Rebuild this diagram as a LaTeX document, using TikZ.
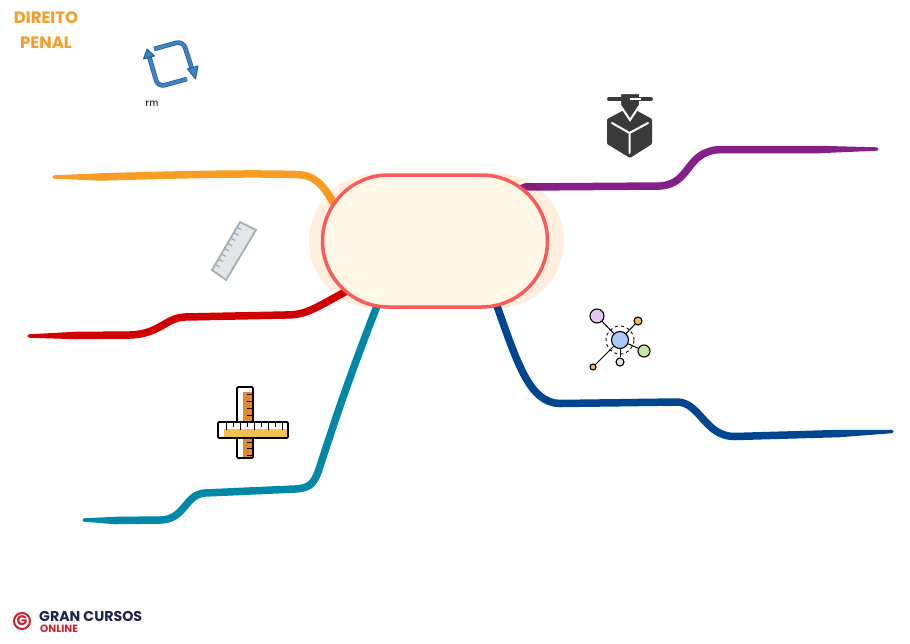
\documentclass[tikz,border=0pt]{standalone}
\usepackage{fontspec}
\usetikzlibrary{positioning,shapes.misc}
\newfontfamily\logofont{Poppins}
\definecolor{haloc}{HTML}{FFEFDC}
\definecolor{corec}{HTML}{FFF8E7}
\definecolor{rimc}{HTML}{FB5A5A}
\definecolor{orangec}{HTML}{F89C24}
\definecolor{purplec}{HTML}{842088}
\definecolor{redc}{HTML}{D00000}
\definecolor{tealc}{HTML}{0088A8}
\definecolor{bluec}{HTML}{004590}
\definecolor{inkc}{HTML}{3A3A3A}
\definecolor{arrowc}{HTML}{3D85C6}
\definecolor{arrowdark}{HTML}{2A5C8F}
\definecolor{logored}{HTML}{C8202E}
\definecolor{logonavy}{HTML}{1E2350}
\definecolor{rulerc}{HTML}{9FB0BC}
\definecolor{rulerfill}{HTML}{E3E5E7}
\definecolor{woodc}{HTML}{E08A30}
\definecolor{goldc}{HTML}{F0C050}
\definecolor{netblue}{HTML}{A8CBFA}
\definecolor{netpurplec}{HTML}{E3C9F2}
\definecolor{netgreenc}{HTML}{C5E8A0}
\tikzset{
	branch/.style={line width=7.5pt, line join=round},
	tail/.style={line width=3.4pt, line join=round},
	hub/.style={draw=black, line width=1.1pt, circle, inner sep=0pt},
	rule/.style={line width=1.6pt, draw=black, rounded corners=1pt},
	title/.style={text=orangec, font=\logofont\bfseries\fontsize{16.5}{18}\selectfont},
}
\newcommand{\branchtail}[4]{\filldraw[tail, #1] (#2,#3-2) -- (#4) -- (#2,#3+2) -- cycle;}
\begin{document}
\begin{tikzpicture}[x=1pt, y=-1pt]
	\useasboundingbox (0,0) rectangle (910,643);

	% Free ends of the branches
	\coordinate (core) at (435,241);
	\coordinate (orangeend) at (54,177);
	\coordinate (redend) at (29,336);
	\coordinate (tealend) at (84,520);
	\coordinate (purpleend) at (877,149);
	\coordinate (blueend) at (892,431.5);

	% Branches
	\draw[branch, orangec] (core) -- (335,205) .. controls (322,184) and (316,175) .. (295,174.5) .. controls (240,173) and (170,175) .. (100,177);
	\branchtail{orangec}{100}{177}{orangeend}
	\draw[branch, redc] (core) -- (345,292) .. controls (310,311) and (305,315) .. (285,315) -- (185,317) .. controls (165,318) and (160,334) .. (130,335) -- (75,335.5);
	\branchtail{redc}{75}{335.5}{redend}
	\draw[branch, tealc] (core) -- (377,306) .. controls (350,375) and (335,420) .. (322,460) .. controls (315,483) and (312,488) .. (295,489) -- (205,493) .. controls (185,494) and (185,520) .. (160,520) -- (115,520.5);
	\branchtail{tealc}{115}{520.5}{tealend}
	\draw[branch, purplec] (core) -- (525,187) -- (660,186) .. controls (692,184) and (685,150) .. (722,149.5) -- (820,149.5);
	\branchtail{purplec}{820}{149.5}{purpleend}
	\draw[branch, bluec] (core) -- (497,306) .. controls (518,365) and (530,403) .. (560,403.5) -- (677,402) .. controls (700,402) and (705,437) .. (735,436.5) -- (840,433.5);
	\branchtail{bluec}{840}{433.5}{blueend}

	% Center
	\node[rounded rectangle, fill=haloc, blend mode=multiply, minimum width=255pt, minimum height=135pt, inner sep=0pt] (halo) at (436.5,241) {};
	\node[rounded rectangle, draw=rimc, fill=corec, line width=3.5pt, minimum width=225pt, minimum height=132pt, inner sep=0pt] (main) at (435,241) {};

	% Title
	\node[title] (direito) at (46,18) {DIREITO};
	\node[title, below=6pt of direito] (penal) {PENAL};

	% Refresh icon
	\foreach \tint/\wide in {arrowdark/4.6, arrowc/3}
		\foreach \arrowpath in {{(154,49) -- (183,41) -- (193,72)}, {(187,79) -- (158,87) -- (149,56)}}
			\draw[line width=\wide pt, color=\tint, rounded corners=7pt] \arrowpath;
	\filldraw[draw=arrowdark, fill=arrowc, line width=1pt, line join=round] (187.5,69) -- (198,66) -- (195.5,79) -- cycle;
	\filldraw[draw=arrowdark, fill=arrowc, line width=1pt, line join=round] (143.5,59) -- (154.5,56) -- (147,49) -- cycle;
	\node[font=\sffamily\fontsize{12}{13}\selectfont] (rm) at (152,104) {rm};

	% Printer icon
	\fill[inkc, rounded corners=1pt] (630,107) -- (652,119) -- (652,144) -- (630,158) -- (607,144) -- (607,119) -- cycle;
	\draw[white, line width=2pt, line cap=round] (612,123) -- (629.5,133) -- (648,123) (629.5,133) -- (629.5,153);
	\fill[inkc, draw=white, line width=2pt] (620,93) -- (640,93) -- (640,105) -- (630,120) -- (620,105) -- cycle;
	\draw[inkc, line width=4pt, line cap=round] (609,99) -- (651,99);
	\draw[white, line width=1.2pt] (630,99) -- (641,99);

	% Network icon
	\node[hub, fill=netblue, minimum size=17pt] (netcenter) at (620,340) {};
	\node[circle, draw=black, dashed, line width=.9pt, minimum size=28pt, inner sep=0pt] (netring) at (620,340) {};
	\node[hub, fill=netpurplec, minimum size=14pt] (netpurple) at (597,316) {};
	\node[hub, fill=goldc, minimum size=8pt] (netyellow) at (638,321) {};
	\node[hub, fill=netgreenc, minimum size=12pt] (netgreen) at (644,351) {};
	\node[hub, fill=gray!20, minimum size=8pt] (netgray) at (620,362) {};
	\node[hub, fill=goldc, minimum size=6pt] (netsmall) at (593,367) {};
	\foreach \leaf in {netpurple,netyellow,netgreen,netgray,netsmall}
		\draw[line width=1pt] (netcenter) -- (\leaf);

	% Gray ruler
	\draw[fill=rulerfill, draw=rulerc, line width=1.8pt] (240,222) -- (256,230) -- (226,280) -- (212,270) -- cycle;
	\foreach \k in {1,...,8}
		\draw[draw=rulerc, line width=1.3pt] ({240-3.1*\k},{222+5.3*\k}) -- ++(4.5,2.6);

	% Cross ruler
	\draw[rule, fill=white] (237,387) rectangle (253,458);
	\fill[woodc] (243,392) rectangle (252,457);
	\foreach \y in {394,401,408,415,442,448,455}
		\draw[line width=1pt] (252,\y) -- (247,\y);
	\draw[rule, fill=white] (218,422) rectangle (288,438);
	\fill[goldc] (224,428.5) rectangle (287,437);
	\foreach \x in {226,240,...,282}
		\draw[line width=1pt] (\x,423) -- (\x,429.5);
	\foreach \x in {233,247,...,275}
		\draw[line width=1pt] (\x,423) -- (\x,426.5);

	% Logo
	\node[circle, draw=logored, line width=2pt, minimum size=16pt, inner sep=0pt, text=logored, font=\logofont\bfseries\fontsize{14}{14}\selectfont] (logog) at (22,621) {G};
	\node[anchor=west, inner sep=0pt, text=logonavy, font=\logofont\bfseries\fontsize{14.2}{14}\selectfont] (gran) at (39,616.5) {GRAN CURSOS};
	\node[anchor=west, inner sep=0pt, text=logored, font=\logofont\bfseries\fontsize{10.5}{10.5}\selectfont] (online) at (40,629) {ONLINE};
\end{tikzpicture}
\end{document}
